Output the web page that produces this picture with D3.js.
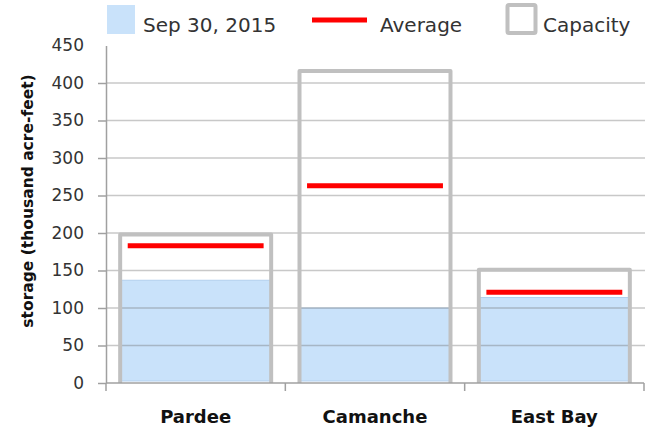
<!DOCTYPE html>
<html>
<head>
<meta charset="utf-8">
<script src="https://cdn.jsdelivr.net/npm/d3@7"></script>
<style>
  body { margin: 0; background: #fff; }
  text { font-family: "DejaVu Sans", sans-serif; }
</style>
</head>
<body>
<svg width="654" height="433"></svg>
<script>
const categories = ["Pardee", "Camanche", "East Bay"]
const current = [137, 100, 114]
const average = [183, 263, 121]
const capacity = [198, 416, 151]
const yTicks = [0, 50, 100, 150, 200, 250, 300, 350, 400, 450]

const svg = d3.select('svg'),
    margin = {top: 45.5, right: 10, bottom: 50, left: 106},
    width = 644 - margin.left,
    height = 383 - margin.top,
    x = d3.scaleBand().domain(categories).range([0, width]),
    y = d3.scaleLinear().domain([0, 450]).range([height, 0]),
    g = svg.append('g')
        .attr('transform', `translate(${margin.left}, ${margin.top})`);

const data = categories.map((c, i) => ({name: c, cur: current[i], avg: average[i], cap: capacity[i]}))
const barW = x.bandwidth() * 0.842
const cx = d => x(d.name) + x.bandwidth() / 2

// current storage (blue)
g.selectAll('.cur')
    .data(data)
    .enter().append('rect')
    .attr('class', 'cur')
    .attr('x', d => cx(d) - barW / 2)
    .attr('y', d => y(d.cur))
    .attr('width', barW)
    .attr('height', d => height - 2 - y(d.cur))
    .attr('fill', '#c9e2fa')
    .attr('stroke', '#b3d0ee')
    .attr('stroke-width', 1)

// gridlines
g.selectAll('.grid')
    .data(yTicks.filter(t => t > 0 && t < 450))
    .enter().append('line')
    .attr('x1', 0).attr('x2', width + 1)
    .attr('y1', d => y(d)).attr('y2', d => y(d))
    .attr('stroke', 'rgba(110,110,110,0.38)')
    .attr('stroke-width', 1.5)

// capacity outline
g.selectAll('.cap')
    .data(data)
    .enter().append('path')
    .attr('d', d => `M${cx(d) - barW / 2},${height}V${y(d.cap)}H${cx(d) + barW / 2}V${height}`)
    .attr('fill', 'none')
    .attr('stroke', '#c0c0c0')
    .attr('stroke-width', 4)
    .attr('stroke-linejoin', 'round')

// average
g.selectAll('.avg')
    .data(data)
    .enter().append('line')
    .attr('x1', d => cx(d) - barW * 0.45).attr('x2', d => cx(d) + barW * 0.45)
    .attr('y1', d => y(d.avg)).attr('y2', d => y(d.avg))
    .attr('stroke', '#ff0000')
    .attr('stroke-width', 5)

// y axis
const yAxis = g.append('g')
    .attr('class', 'axis axis-y')
    .call(d3.axisLeft(y).tickValues(yTicks).tickSize(8).tickSizeOuter(0).tickPadding(14))
    .attr('font-size', 17)
    .attr('font-family', '"DejaVu Sans", sans-serif')
yAxis.select('.domain').attr('stroke', '#a0a0a0').attr('stroke-width', 1.5)
yAxis.selectAll('.tick line').attr('stroke', '#a0a0a0').attr('stroke-width', 1.5)
    .attr('display', d => d === 450 ? 'none' : null)
yAxis.selectAll('.tick text')
    .style('font-size', '17px')
    .attr('fill', '#333')

// x axis
const xAxis = g.append('g')
    .attr('class', 'axis axis-x')
    .attr('transform', `translate(0, ${height})`)
xAxis.append('line').attr('x1', 0).attr('x2', width)
    .attr('stroke', '#a0a0a0').attr('stroke-width', 1.5)
xAxis.selectAll('.xt')
    .data(categories.concat(['end']))
    .enter().append('line')
    .attr('x1', (d, i) => i * x.step()).attr('x2', (d, i) => i * x.step())
    .attr('y1', 0).attr('y2', 8)
    .attr('stroke', '#a0a0a0').attr('stroke-width', 1.5)
xAxis.selectAll('.xl')
    .data(categories)
    .enter().append('text')
    .attr('x', d => x(d) + x.bandwidth() / 2)
    .attr('y', 40)
    .attr('text-anchor', 'middle')
    .attr('font-size', '18px')
    .attr('font-weight', 'bold')
    .attr('fill', '#111')
    .text(d => d)

// y title
svg.append('text')
    .attr('transform', 'translate(33, 201) rotate(-90)')
    .attr('text-anchor', 'middle')
    .attr('font-size', '15.5px')
    .attr('font-weight', 'bold')
    .attr('fill', '#111')
    .text('storage (thousand acre-feet)')

// legend
const lg = svg.append('g')
lg.append('rect').attr('x', 107).attr('y', 5).attr('width', 28).attr('height', 29).attr('fill', '#c9e2fa')
lg.append('text').attr('x', 143).attr('y', 31.5).attr('font-size', '20px').attr('fill', '#333').text('Sep 30, 2015')
lg.append('line').attr('x1', 312).attr('x2', 367).attr('y1', 20).attr('y2', 20)
    .attr('stroke', '#ff0000').attr('stroke-width', 5)
lg.append('text').attr('x', 380).attr('y', 31.5).attr('font-size', '20px').attr('fill', '#333').text('Average')
lg.append('rect').attr('x', 507.5).attr('y', 5).attr('width', 28).attr('height', 28)
    .attr('fill', 'none').attr('stroke', '#c0c0c0').attr('stroke-width', 4).attr('rx', 1.5)
lg.append('text').attr('x', 543).attr('y', 31.5).attr('font-size', '20px').attr('fill', '#333').text('Capacity')
</script>
</body>
</html>
